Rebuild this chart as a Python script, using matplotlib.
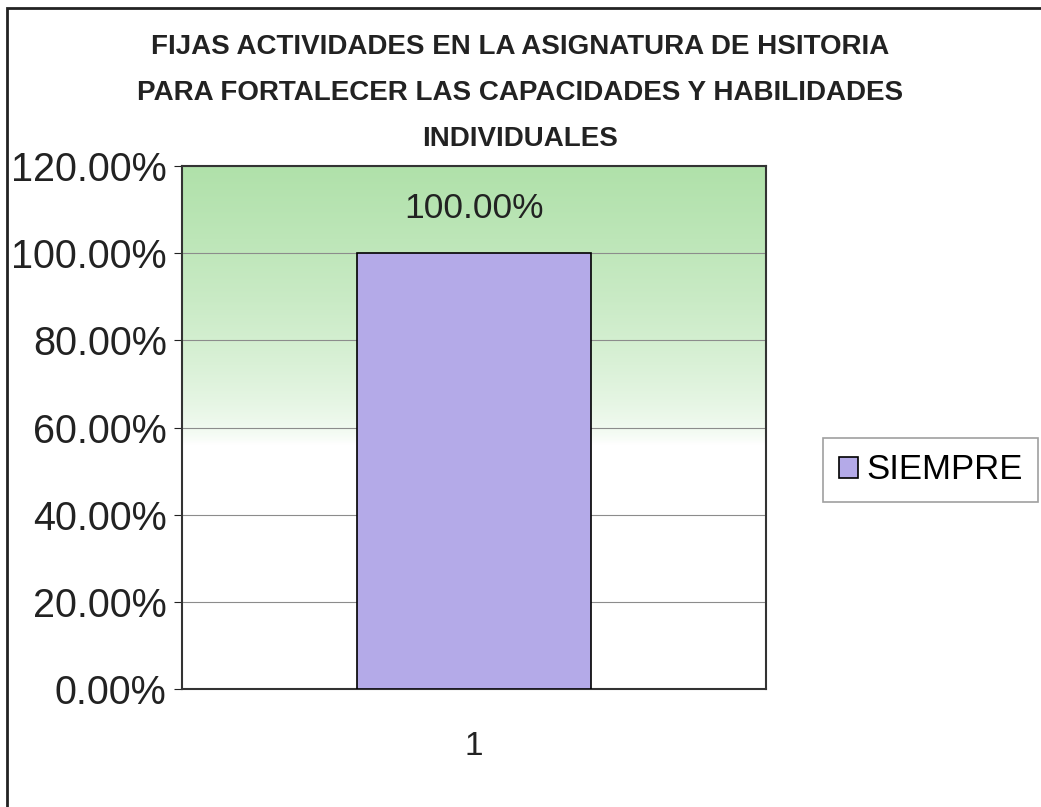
import matplotlib.pyplot as plt
import numpy as np
from matplotlib.patches import Rectangle
from matplotlib.ticker import PercentFormatter

categories = ['1']
values = [1.00]
series_name = 'SIEMPRE'
title = ('FIJAS ACTIVIDADES EN LA ASIGNATURA DE HSITORIA\n'
         'PARA FORTALECER LAS CAPACIDADES Y HABILIDADES\n'
         'INDIVIDUALES')

plt.rcParams['font.family'] = ['Liberation Sans', 'DejaVu Sans']

fig = plt.figure(figsize=(10.41, 8.07), dpi=100)
ax = fig.add_axes([182 / 1041, 1 - 689 / 807, 584 / 1041, 523 / 807])

# green gradient in upper part of plot area
h = 200
t = np.linspace(0, 1, h)  # 0 bottom -> 1 top
alpha = np.clip((t - 0.47) / 0.53, 0, 1) ** 0.6
top = np.array([176, 225, 170]) / 255
img = np.ones((h, 1, 3))
for i in range(3):
    img[:, 0, i] = 1 - alpha * (1 - top[i])
ax.imshow(img, extent=[0.5, 1.5, 0, 1.2], origin='lower', aspect='auto', zorder=0)

x = np.arange(1, len(categories) + 1)
bars = ax.bar(x, values, width=0.4, color='#b4aae8', edgecolor='black', linewidth=1.2, zorder=3,
              label=series_name)
for b, v in zip(bars, values):
    ax.text(b.get_x() + b.get_width() / 2, v + 0.065, f'{v * 100:.2f}%', ha='center', va='bottom',
            fontsize=25.5, color='#222222', zorder=4)

ax.set_xlim(0.5, 1.5)
ax.set_ylim(0, 1.2)
ax.set_yticks(np.arange(0, 1.21, 0.2))
ax.yaxis.set_major_formatter(PercentFormatter(1.0, decimals=2))
ax.set_xticks(x)
ax.set_xticklabels(categories)
ax.grid(axis='y', color='#8c8c8c', linewidth=0.8, zorder=1)
ax.tick_params(axis='y', labelsize=28.5, length=6, pad=5, colors='#222222')
ax.tick_params(axis='x', labelsize=24, length=0, pad=30, colors='#222222')
for s in ax.spines.values():
    s.set_color('#333333')
    s.set_linewidth(1.5)

fig.text(0.5, 1 - 93 / 807, title, ha='center', va='center', fontsize=20, fontweight='bold',
         family=['Liberation Sans Narrow', 'Liberation Sans', 'DejaVu Sans'], linespacing=2.0,
         color='#222222')

leg = fig.legend(handles=[bars], labels=[series_name], loc='center left',
                 bbox_to_anchor=(823 / 1041, 1 - 470 / 807), fontsize=25, frameon=True,
                 fancybox=False, edgecolor='#888888', handlelength=0.55, handleheight=0.55,
                 handletextpad=0.25, borderpad=0.45, borderaxespad=0)
leg.get_frame().set_linewidth(1.2)

fig.patches.append(Rectangle((7 / 1041, -0.05), 1.1, 1 - 8 / 807 + 0.05, transform=fig.transFigure,
                             fill=False, edgecolor='#222222', linewidth=2))

fig.savefig('out.png', dpi=100)
